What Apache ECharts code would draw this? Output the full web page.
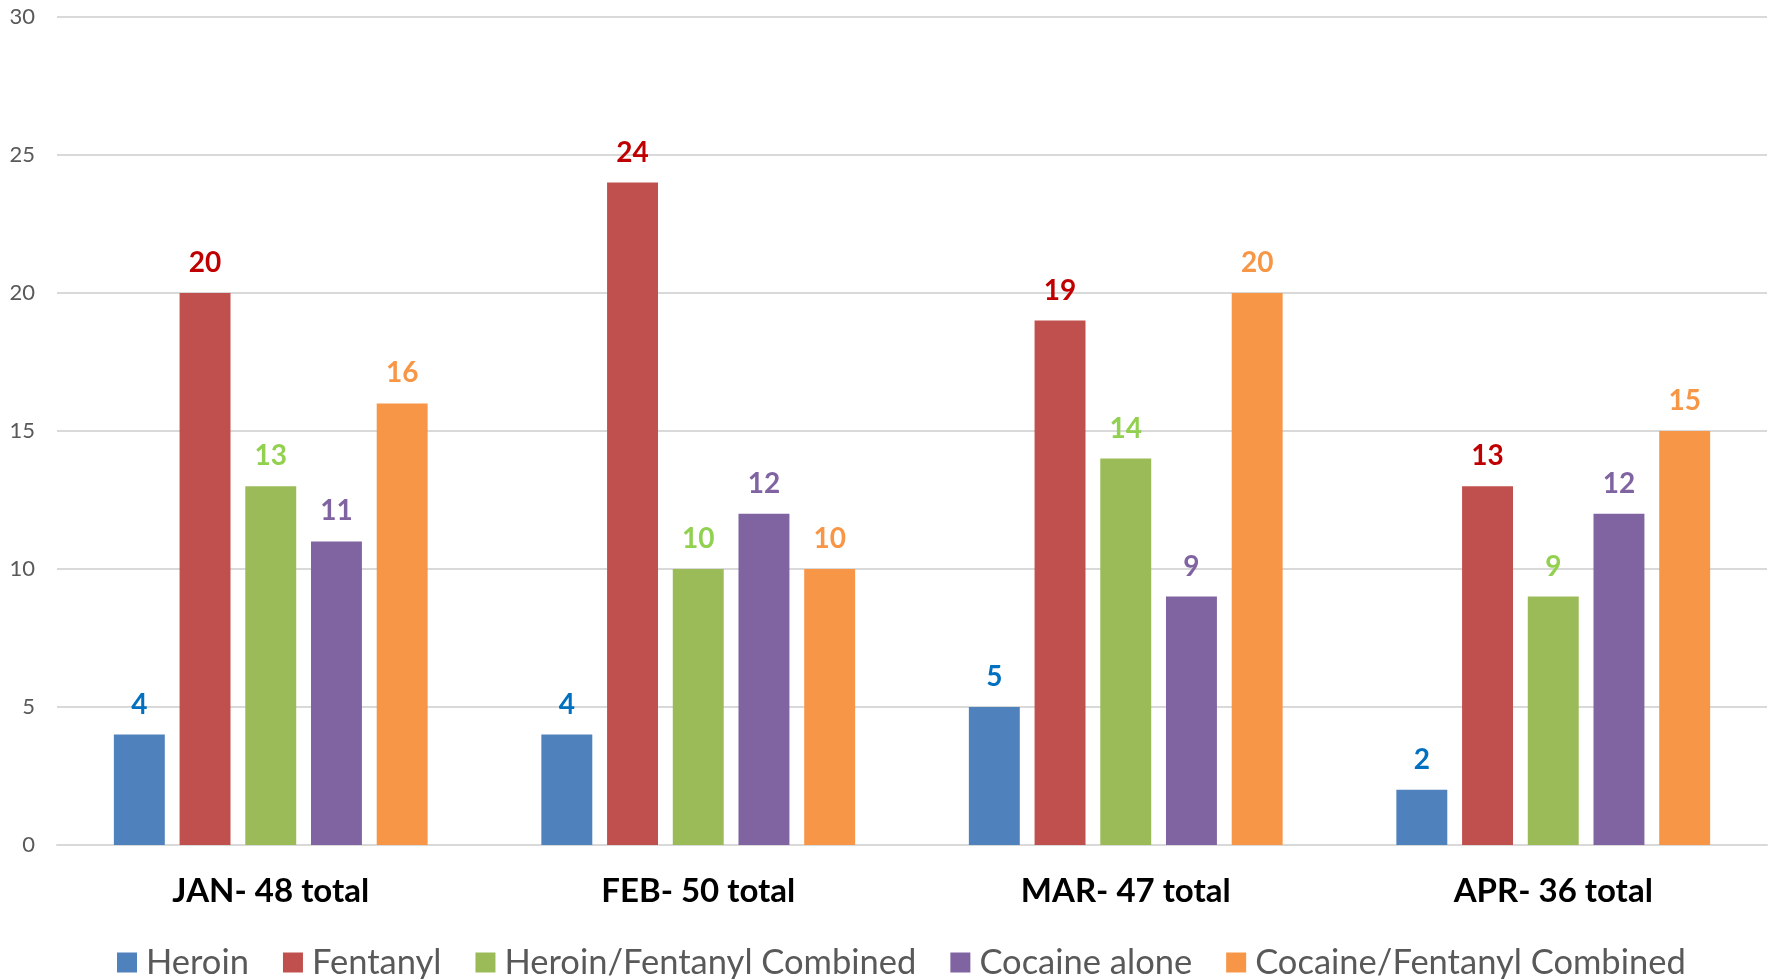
<!DOCTYPE html>
<html><head><meta charset="utf-8">
<script src="https://cdn.jsdelivr.net/npm/echarts@6/dist/echarts.min.js"></script>
<style>html,body{margin:0;padding:0;background:#fff}#c{width:1781px;height:979px}</style>
</head><body><div id="c"></div>
<script>
const categories = ['JAN- 48 total', 'FEB- 50 total', 'MAR- 47 total', 'APR- 36 total'];
const seriesNames = ['Heroin', 'Fentanyl', 'Heroin/Fentanyl Combined', 'Cocaine alone', 'Cocaine/Fentanyl Combined'];
const heroin = [4, 4, 5, 2];
const fentanyl = [20, 24, 19, 13];
const heroinFentanyl = [13, 10, 14, 9];
const cocaineAlone = [11, 12, 9, 12];
const cocaineFentanyl = [16, 10, 20, 15];
const yTicks = [0, 5, 10, 15, 20, 25, 30];

const values = [heroin, fentanyl, heroinFentanyl, cocaineAlone, cocaineFentanyl];
const barColors = ['#4F81BD', '#C0504D', '#9BBB59', '#8064A2', '#F79646'];
const labelColors = ['#0070C0', '#C00000', '#92D050', '#8064A2', '#F79646'];
const FONT = 'Lato, "Open Sans", sans-serif';

const chart = echarts.init(document.getElementById('c'));
chart.setOption({
  animation: false,
  backgroundColor: '#fff',
  grid: { left: 57, right: 14, top: 17, bottom: 134, containLabel: false },
  legend: {
    data: seriesNames,
    top: 940,
    left: 112,
    itemWidth: 20, itemHeight: 20, itemGap: 34,
    icon: 'rect',
    textStyle: { fontFamily: FONT, fontSize: 34.5, color: '#595959', padding: [0, 0, 0, 4] }
  },
  xAxis: {
    type: 'category',
    data: categories,
    axisLine: { show: true, lineStyle: { color: '#D9D9D9', width: 2 } },
    axisTick: { show: false },
    axisLabel: { fontFamily: FONT, fontSize: 33, fontWeight: 'bold', color: '#000', margin: 30 }
  },
  yAxis: {
    type: 'value',
    min: yTicks[0], max: yTicks[yTicks.length - 1], interval: 5,
    axisLine: { show: false }, axisTick: { show: false },
    splitLine: { lineStyle: { color: '#D9D9D9', width: 2 } },
    axisLabel: { fontFamily: FONT, fontSize: 22, color: '#595959', margin: 22 }
  },
  series: seriesNames.map((n, i) => ({
    name: n,
    type: 'bar',
    data: values[i],
    barGap: '29%',
    barCategoryGap: '26.6%',
    itemStyle: { color: barColors[i] },
    label: {
      show: true, position: 'top', distance: 16,
      fontFamily: FONT, fontSize: 28, fontWeight: 'bold', color: labelColors[i]
    }
  }))
});
</script></body></html>
